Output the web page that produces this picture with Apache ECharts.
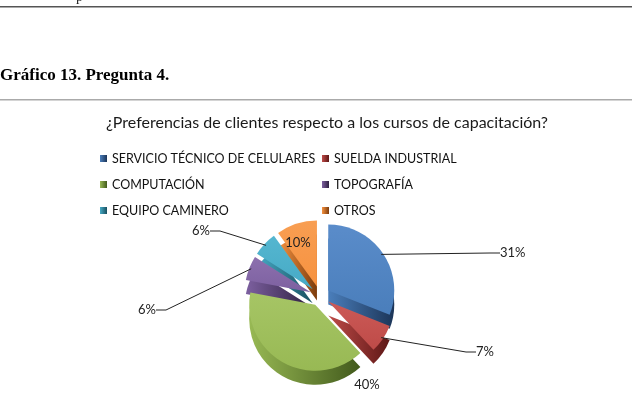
<!DOCTYPE html>
<html>
<head>
<meta charset="utf-8">
<script src="https://cdn.jsdelivr.net/npm/echarts@6/dist/echarts.min.js"></script>
<style>
html,body{margin:0;padding:0;background:#fff;}
#main{width:632px;height:400px;}
</style>
</head>
<body>
<div id="main"></div>
<script>
// datos del gráfico
var categorias = ['SERVICIO TÉCNICO DE CELULARES', 'SUELDA INDUSTRIAL', 'COMPUTACIÓN', 'TOPOGRAFÍA', 'EQUIPO CAMINERO', 'OTROS'];
var porcentajes = [31, 7, 40, 6, 6, 10];
var coloresBase = ['#4a7ebb', '#be4b48', '#98b954', '#7d60a0', '#46aac5', '#f69240'];
var coloresLuz = ['#5a8cca', '#cc5a57', '#a6c565', '#8c70ae', '#55b6d0', '#f89e52'];
var coloresLado = ['#1c3558', '#5e1716', '#425a1c', '#2e2040', '#184f5f', '#7c3c0c'];

// donde van los textos de porcentaje (como en el original)
var posEtiquetas = [[500, 253, 'left'], [476, 352, 'left'], [367, 385, 'center'], [156, 310, 'right'], [210, 231, 'right'], [298, 243, 'center']];

var myChart = echarts.init(document.getElementById('main'));
var fuente = 'Lato, "Open Sans", sans-serif';

var datosArriba = categorias.map(function (c, i) {
    return {
        name: c,
        value: porcentajes[i],
        selected: true,
        itemStyle: {
            color: new echarts.graphic.LinearGradient(0, 0, 0, 1, [
                {offset: 0, color: coloresLuz[i]},
                {offset: 1, color: coloresBase[i]}
            ])
        }
    };
});
var datosLado = categorias.map(function (c, i) {
    return {
        name: c,
        value: porcentajes[i],
        selected: true,
        itemStyle: {
            color: new echarts.graphic.LinearGradient(0, 0, 1, 0, [
                {offset: 0, color: coloresBase[i]},
                {offset: 1, color: coloresLado[i]}
            ])
        }
    };
});
// serie invisible solo para las etiquetas
var datosEtiqueta = categorias.map(function (c, i) {
    return {
        name: c,
        value: porcentajes[i],
        labelLine: {show: i != 2 && i != 5}
    };
});

var leyendaComun = {
    orient: 'vertical',
    icon: 'rect',
    itemWidth: 7,
    itemHeight: 7,
    itemGap: 13,
    top: 147,
    textStyle: {fontFamily: fuente, fontSize: 12.5, color: '#111'}
};

option = {
    backgroundColor: '#fff',
    animation: false,
    title: {
        text: '¿Preferencias de clientes respecto a los cursos de capacitación?',
        left: 101,
        top: 110,
        textStyle: {fontFamily: fuente, fontSize: 16, fontWeight: 'normal', color: '#1a1a1a'}
    },
    legend: [
        Object.assign({left: 95, data: [categorias[0], categorias[2], categorias[4]]}, leyendaComun),
        Object.assign({left: 317, data: [categorias[1], categorias[3], categorias[5]]}, leyendaComun)
    ],
    graphic: [
        {type: 'rect', shape: {x: 0, y: 6, width: 632, height: 1.5}, style: {fill: '#555'}},
        {type: 'text', x: 76, y: -10, style: {text: 'p', font: '14px "Liberation Serif"', fill: '#222'}},
        {type: 'text', x: 0, y: 76, style: {text: 'Gráfico 13. Pregunta 4.', font: 'bold 17px "Liberation Serif"', fill: '#000', verticalAlign: 'middle'}},
        {type: 'rect', shape: {x: 0, y: 99, width: 632, height: 1.5}, style: {fill: '#aaa'}}
    ],
    series: [
        {
            type: 'pie',
            name: 'lado',
            silent: true,
            z: 1,
            center: [320, 310],
            radius: 66,
            startAngle: 90,
            selectedMode: 'multiple',
            selectedOffset: 10,
            label: {show: false},
            labelLine: {show: false},
            data: datosLado
        },
        {
            type: 'pie',
            name: 'preferencias',
            z: 2,
            center: [320, 296],
            radius: 66,
            startAngle: 90,
            selectedMode: 'multiple',
            selectedOffset: 10,
            label: {show: false},
            labelLine: {show: false},
            data: datosArriba
        },
        {
            type: 'pie',
            name: 'etiquetas',
            silent: true,
            z: 3,
            center: [320, 296],
            radius: 74,
            startAngle: 90,
            itemStyle: {color: 'rgba(0,0,0,0)'},
            label: {
                formatter: '{c}%',
                fontFamily: fuente,
                fontSize: 13,
                color: '#222'
            },
            labelLine: {length: 10, length2: 10, lineStyle: {color: '#222', width: 1}},
            labelLayout: function (params) {
                var p = posEtiquetas[params.dataIndex];
                return {x: p[0], y: p[1], align: p[2], verticalAlign: 'middle'};
            },
            data: datosEtiqueta
        }
    ]
};
myChart.setOption(option);
</script>
</body>
</html>
